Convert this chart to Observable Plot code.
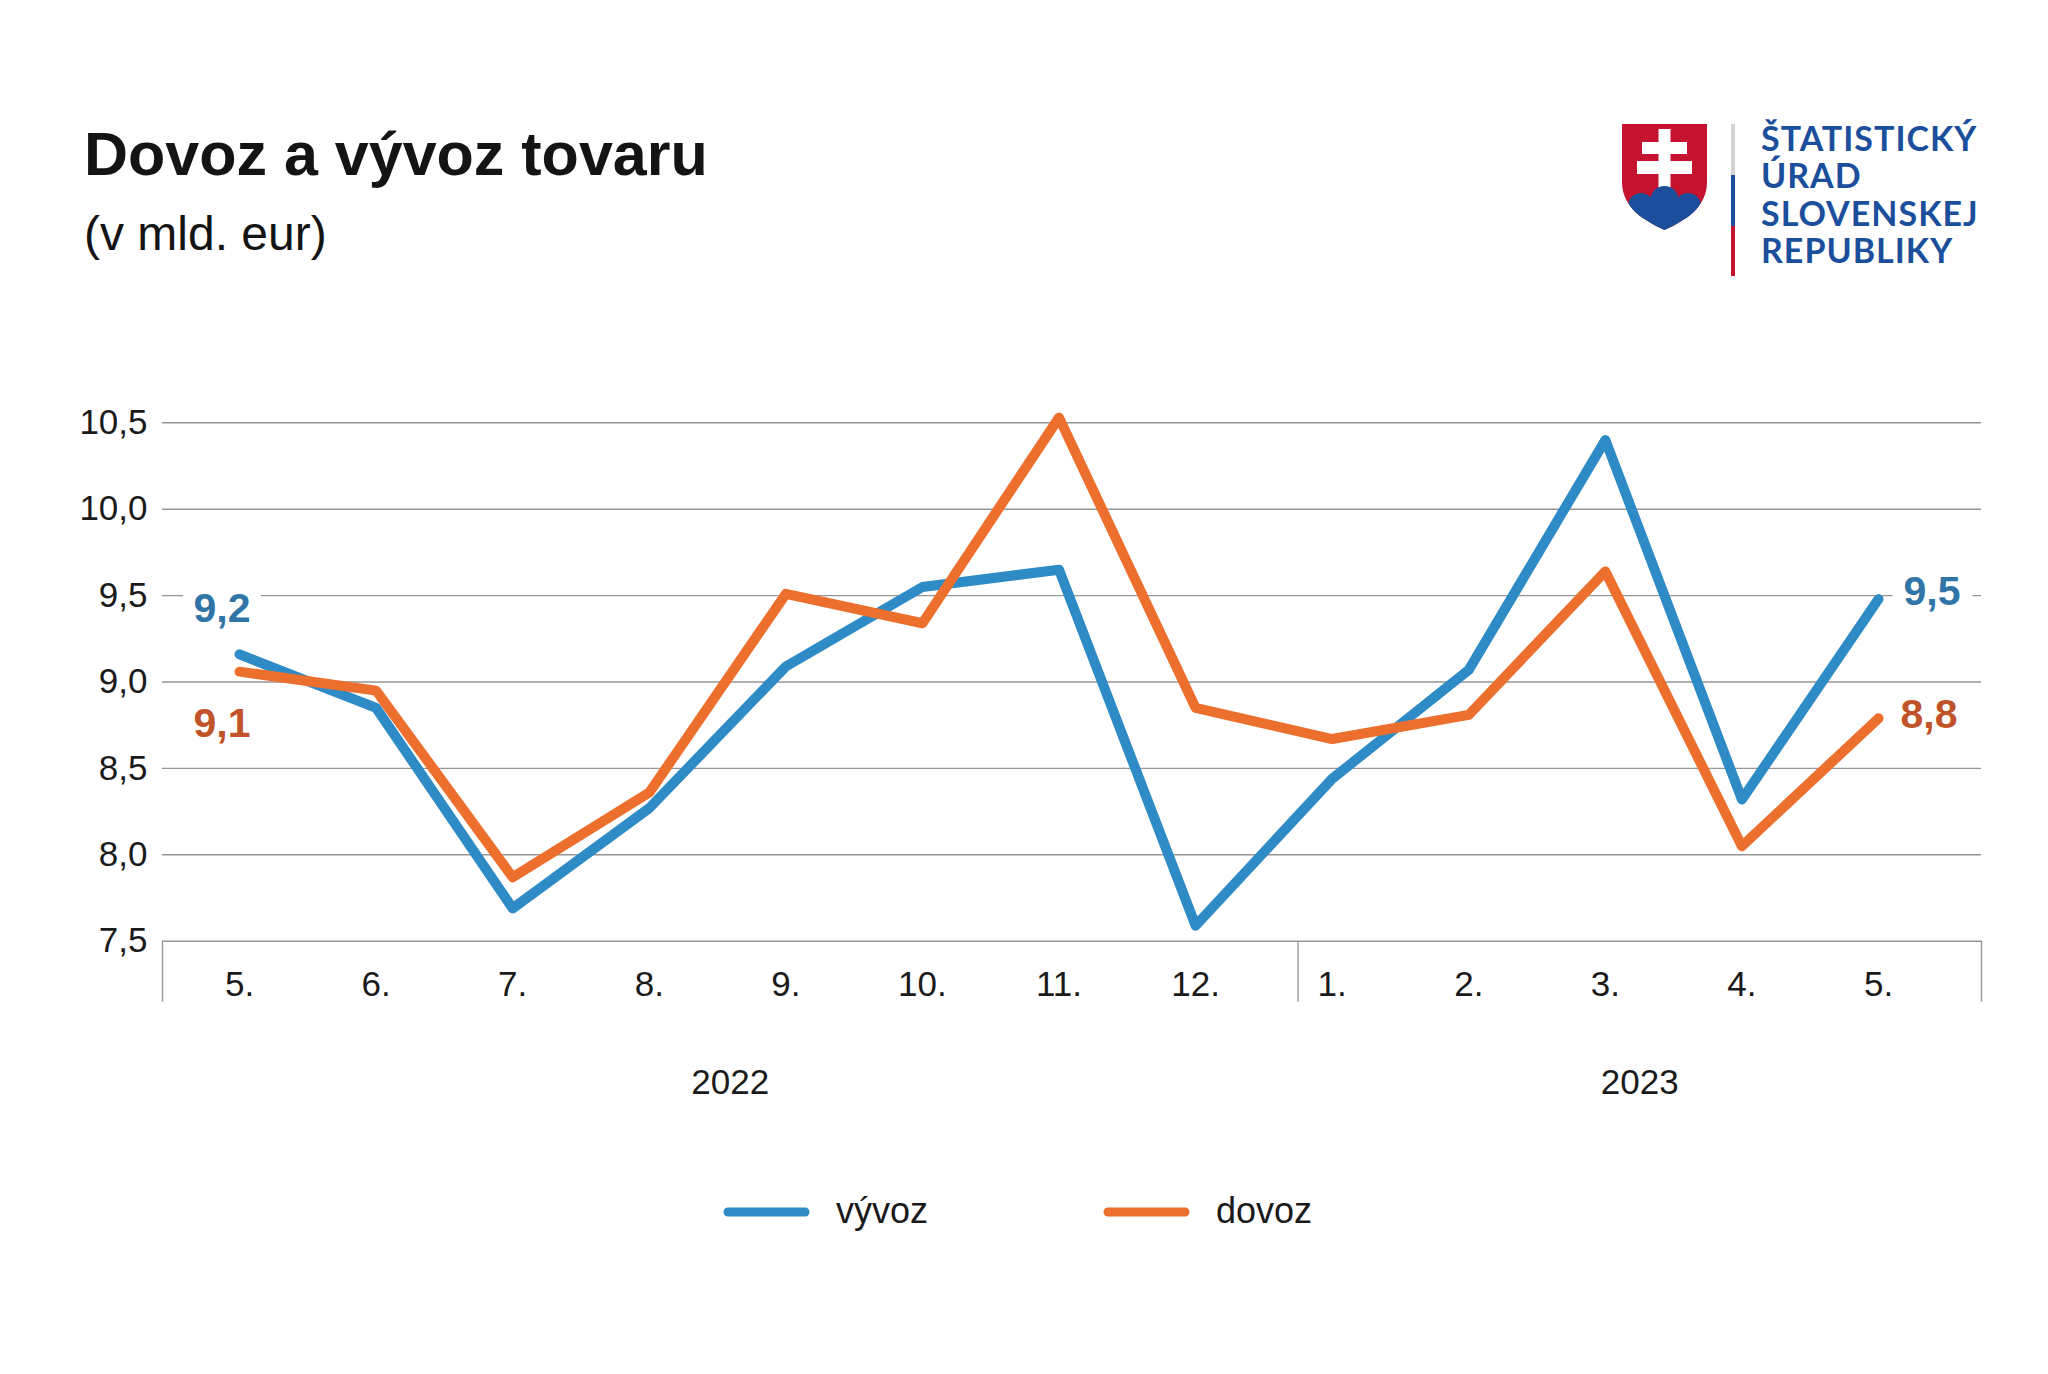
<!DOCTYPE html>
<html>
<head>
<meta charset="utf-8">
<script src="https://cdn.jsdelivr.net/npm/d3@7"></script>
<script src="https://cdn.jsdelivr.net/npm/@observablehq/plot@0.6"></script>
<style>
html, body { margin: 0; padding: 0; background: #fff; }
#page { position: relative; width: 2048px; height: 1374px; overflow: hidden; background: #fff; font-family: "Liberation Sans", Arial, sans-serif; }
#header { position: absolute; left: 0; top: 0; }
#chart { position: absolute; left: 0; top: 300px; }
#legend { position: absolute; left: 0; top: 1150px; }
</style>
</head>
<body>
<div id="page">
  <svg id="header" width="2048" height="300" xmlns="http://www.w3.org/2000/svg">
    <text x="84" y="175" font-family="Liberation Sans, Arial, sans-serif" font-size="61" font-weight="bold" fill="#141414">Dovoz a vývoz tovaru</text>
    <text x="84" y="250" font-family="Liberation Sans, Arial, sans-serif" font-size="48" fill="#141414">(v mld. eur)</text>
    <defs>
      <clipPath id="shield">
        <path d="M0,0H85V58C85,84 62,97 42.5,106C23,97 0,84 0,58Z"/>
      </clipPath>
    </defs>
    <g transform="translate(1622,124)">
      <g clip-path="url(#shield)">
        <rect x="0" y="0" width="85" height="106" fill="#c4122f"/>
        <rect x="36.5" y="5" width="12" height="70" fill="#fff"/>
        <rect x="20" y="18" width="45" height="12" fill="#fff"/>
        <rect x="15" y="37" width="55" height="13" fill="#fff"/>
        <circle cx="19" cy="82" r="13" fill="#1b4f9c"/>
        <circle cx="42.5" cy="76" r="14" fill="#1b4f9c"/>
        <circle cx="66" cy="82" r="13" fill="#1b4f9c"/>
        <rect x="0" y="82" width="85" height="30" fill="#1b4f9c"/>
      </g>
    </g>
    <rect x="1731" y="124" width="4" height="51" fill="#d3d3d3"/>
    <rect x="1731" y="175" width="4" height="51" fill="#1b4f9c"/>
    <rect x="1731" y="226" width="4" height="50" fill="#c4122f"/>
    <g font-family="Lato, 'Open Sans', sans-serif" font-size="34" font-weight="bold" letter-spacing="1" fill="#1b4f9c">
      <text x="1761" y="151">ŠTATISTICKÝ</text>
      <text x="1761" y="188">ÚRAD</text>
      <text x="1761" y="226">SLOVENSKEJ</text>
      <text x="1761" y="263">REPUBLIKY</text>
    </g>
  </svg>
  <div id="chart"></div>
  <svg id="legend" width="2048" height="120" xmlns="http://www.w3.org/2000/svg"></svg>
</div>
<script>
// ---- data ----
const months = ["5.", "6.", "7.", "8.", "9.", "10.", "11.", "12.", "1.", "2.", "3.", "4.", "5."];
const monthYear = [2022, 2022, 2022, 2022, 2022, 2022, 2022, 2022, 2023, 2023, 2023, 2023, 2023];
const years = [2022, 2023];
const vyvoz = [9.16, 8.85, 7.69, 8.27, 9.09, 9.55, 9.65, 7.59, 8.44, 9.07, 10.40, 8.32, 9.48];
const dovoz = [9.06, 8.95, 7.87, 8.36, 9.51, 9.34, 10.53, 8.85, 8.67, 8.81, 9.64, 8.05, 8.79];
const yTicks = [7.5, 8.0, 8.5, 9.0, 9.5, 10.0, 10.5];
const seriesNames = ["vývoz", "dovoz"];

// ---- styling ----
const lineColor = {"vývoz": "#2e8bc6", "dovoz": "#ed6f2d"};
const labelColor = {"vývoz": "#2f75a7", "dovoz": "#c1532a"};
const fmt = v => d3.format(".1f")(v).replace(".", ",");

const rows = months.map((m, i) => ({i, month: m, year: monthYear[i], "vývoz": vyvoz[i], "dovoz": dovoz[i]}));
const xDomain = [-0.564, 12.754];
const lastIndex = months.length - 1;
const firstOf2023 = monthYear.indexOf(years[1]);
const yearBreak = firstOf2023 - 0.25;   // separator between the year groups, as placed in the original
const boundaries = [xDomain[0], yearBreak, xDomain[1]];
const yearSpans = years.map((y, k) => {
  const lo = k === 0 ? xDomain[0] : yearBreak;
  const hi = k === years.length - 1 ? xDomain[1] : yearBreak;
  return {year: y, center: (lo + hi) / 2};
});

const labelBase = {
  fontWeight: "bold", fontSize: 41, lineAnchor: "bottom",
  stroke: "white", strokeWidth: 26, strokeLinejoin: "round", paintOrder: "stroke"
};
function endLabel(series, idx, opts) {
  return Plot.text(rows.filter(r => r.i === idx), {
    x: "i", y: series, text: d => fmt(d[series]), fill: labelColor[series], ...labelBase, ...opts
  });
}

const chart = Plot.plot({
  width: 2048,
  height: 830,
  marginLeft: 162,
  marginRight: 67,
  marginTop: 122.3,
  marginBottom: 189.3,
  style: {fontFamily: "'Liberation Sans', Arial, sans-serif", fontSize: "35px", color: "#1a1a1a", background: "white", overflow: "visible"},
  x: {type: "linear", domain: xDomain},
  y: {domain: [yTicks[0], yTicks[yTicks.length - 1]]},
  marks: [
    Plot.ruleY(yTicks, {stroke: "#969696", strokeWidth: 1.4}),
    Plot.ruleX(boundaries, {x: d => d, y1: () => yTicks[0], y2: () => yTicks[0], insetBottom: -61, stroke: "#969696", strokeWidth: 1.4}),
    Plot.axisY({ticks: yTicks, tickSize: 0, tickPadding: 15, tickFormat: fmt, fontSize: 35, fill: "#1a1a1a"}),
    Plot.axisX({ticks: rows.map(r => r.i), tickSize: 0, tickPadding: 30, tickFormat: i => months[i], fontSize: 35, fill: "#1a1a1a"}),
    Plot.text(yearSpans, {x: "center", y: () => yTicks[0], text: d => String(d.year), dy: 153, lineAnchor: "bottom", fontSize: 35, fill: "#1a1a1a"}),
    Plot.line(rows, {x: "i", y: "vývoz", stroke: lineColor["vývoz"], strokeWidth: 10, strokeLinecap: "round", strokeLinejoin: "round"}),
    Plot.line(rows, {x: "i", y: "dovoz", stroke: lineColor["dovoz"], strokeWidth: 10, strokeLinecap: "round", strokeLinejoin: "round"}),
    endLabel("vývoz", 0, {textAnchor: "start", dx: -46, dy: -32}),
    endLabel("dovoz", 0, {textAnchor: "start", dx: -46, dy: 65}),
    endLabel("vývoz", lastIndex, {textAnchor: "start", dx: 25, dy: 6}),
    endLabel("dovoz", lastIndex, {textAnchor: "start", dx: 22, dy: 10})
  ]
});
document.getElementById("chart").appendChild(chart);

// ---- legend ----
const legend = d3.select("#legend");
const legendX = [724, 1104];
seriesNames.forEach((s, k) => {
  const g = legend.append("g").attr("transform", `translate(${legendX[k]},62)`);
  g.append("line").attr("x1", 4).attr("x2", 81).attr("y1", 0).attr("y2", 0)
    .attr("stroke", lineColor[s]).attr("stroke-width", 9).attr("stroke-linecap", "round");
  g.append("text").attr("x", 112).attr("y", 11)
    .attr("font-family", "Liberation Sans, Arial, sans-serif").attr("font-size", 36).attr("fill", "#1a1a1a")
    .text(s);
});
</script>
</body>
</html>
